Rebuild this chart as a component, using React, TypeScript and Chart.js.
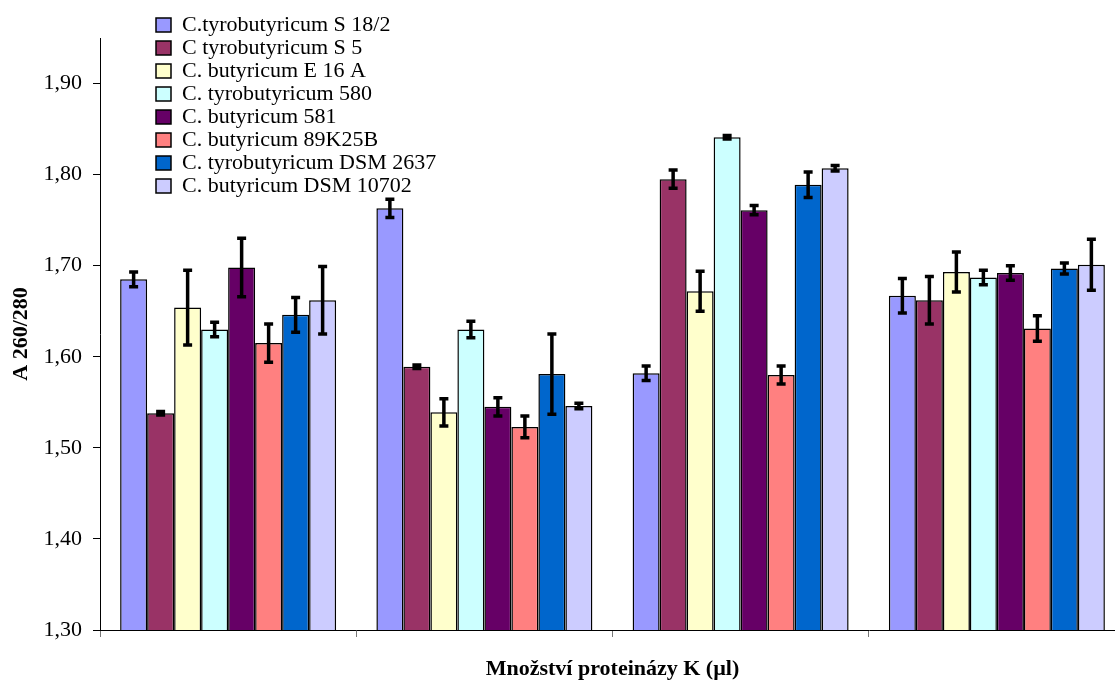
import React, { useEffect, useRef } from 'react';
import { Chart, registerables } from 'chart.js';

Chart.register(...registerables);

// ---- Data ----
const categories = ['', '', '', ''];

const seriesNames = [
  'C.tyrobutyricum S 18/2',
  'C tyrobutyricum S 5',
  'C. butyricum E 16 A',
  'C. tyrobutyricum 580',
  'C. butyricum 581',
  'C. butyricum 89K25B',
  'C. tyrobutyricum DSM 2637',
  'C. butyricum DSM 10702',
];

const s18_2 = [1.685, 1.763, 1.582, 1.667];
const s5 = [1.538, 1.589, 1.795, 1.662];
const e16a = [1.654, 1.539, 1.672, 1.693];
const t580 = [1.630, 1.630, 1.841, 1.687];
const b581 = [1.698, 1.545, 1.761, 1.692];
const b89k25b = [1.615, 1.523, 1.580, 1.631];
const dsm2637 = [1.646, 1.581, 1.789, 1.697];
const dsm10702 = [1.662, 1.546, 1.807, 1.701];

const s18_2Err = [0.008, 0.010, 0.008, 0.019];
const s5Err = [0.002, 0.002, 0.010, 0.026];
const e16aErr = [0.041, 0.015, 0.022, 0.022];
const t580Err = [0.008, 0.009, 0.002, 0.008];
const b581Err = [0.032, 0.010, 0.005, 0.008];
const b89k25bErr = [0.021, 0.012, 0.010, 0.014];
const dsm2637Err = [0.019, 0.044, 0.014, 0.006];
const dsm10702Err = [0.037, 0.003, 0.003, 0.028];

const seriesValues = [s18_2, s5, e16a, t580, b581, b89k25b, dsm2637, dsm10702];
const seriesErrors = [s18_2Err, s5Err, e16aErr, t580Err, b581Err, b89k25bErr, dsm2637Err, dsm10702Err];

const colors = ['#9999FF', '#993366', '#FFFFCC', '#CCFFFF', '#660066', '#FF8080', '#0066CC', '#CCCCFF'];

const yMin = 1.3;
const yMax = 1.95;
const yStep = 0.1;

const FONT = '"Liberation Serif", "Times New Roman", Times, serif';
const FS = 22;

const errorBarPlugin = {
  id: 'errorBars',
  afterDatasetsDraw(chart: any) {
    const ctx = chart.ctx;
    const yScale = chart.scales.y;
    ctx.save();
    ctx.strokeStyle = '#000';
    ctx.lineWidth = 3.5;
    ctx.lineCap = 'butt';
    chart.data.datasets.forEach((ds: any, i: number) => {
      const meta = chart.getDatasetMeta(i);
      meta.data.forEach((el: any, j: number) => {
        const v = ds.data[j];
        const e = ds.errors[j];
        const yt = yScale.getPixelForValue(v + e);
        const yb = yScale.getPixelForValue(v - e);
        const x = el.x;
        ctx.beginPath();
        ctx.moveTo(x, yt);
        ctx.lineTo(x, yb);
        ctx.moveTo(x - 4.5, yt);
        ctx.lineTo(x + 4.5, yt);
        ctx.moveTo(x - 4.5, yb);
        ctx.lineTo(x + 4.5, yb);
        ctx.stroke();
      });
    });
    ctx.restore();
  },
};

const legendPlacer = {
  id: 'legendPlacer',
  afterLayout(chart: any) {
    const lg = chart.legend;
    if (!lg) return;
    const w = lg.width;
    const h = lg.height;
    lg.left = 155;
    lg.top = 13;
    lg.right = 155 + w;
    lg.bottom = 13 + h;
  },
};

export default function App() {
  const ref = useRef<HTMLCanvasElement>(null);

  useEffect(() => {
    let chart: any = null;
    let cancelled = false;
    const build = () => {
      if (cancelled || !ref.current) return;
      chart = new Chart(ref.current, {
        type: 'bar',
        data: {
          labels: categories,
          datasets: seriesNames.map((name, i) => ({
            label: name,
            data: seriesValues[i],
            errors: seriesErrors[i],
            backgroundColor: colors[i],
            borderColor: '#000',
            borderWidth: 1.5,
            borderSkipped: 'bottom',
            barPercentage: 1,
            categoryPercentage: 216 / 256.25,
          })) as any,
        },
        options: {
          animation: false,
          responsive: false,
          devicePixelRatio: 1,
          font: { family: FONT },
          layout: { padding: { top: 38, right: 10, bottom: 0, left: 0 } },
          plugins: {
            legend: {
              position: 'chartArea',
              align: 'start',
              labels: {
                font: { family: FONT, size: FS, weight: 'normal' },
                color: '#000',
                boxWidth: 15,
                boxHeight: 14,
                padding: 1,
              },
            },
            tooltip: { enabled: false },
          },
          scales: {
            x: {
              type: 'category',
              offset: true,
              grid: {
                display: true,
                offset: true,
                drawOnChartArea: false,
                drawTicks: true,
                tickLength: 7,
                color: '#777',
              },
              border: { display: true, color: '#000', width: 1 },
              ticks: { display: false },
              title: {
                display: true,
                text: 'Množství proteinázy K (µl)',
                font: { family: FONT, size: FS, weight: 'bold' },
                color: '#000',
                padding: { top: 0, bottom: 3 },
              },
              afterFit: (scale: any) => {
                scale.height = 56;
              },
            },
            y: {
              type: 'linear',
              min: yMin,
              max: yMax,
              grid: {
                display: true,
                drawOnChartArea: false,
                drawTicks: true,
                tickLength: 7,
                color: '#000',
              },
              border: { display: true, color: '#000', width: 1 },
              ticks: {
                stepSize: yStep,
                padding: 11,
                color: '#000',
                font: { family: FONT, size: FS, weight: 'normal' },
                callback: (v: any) => Number(v).toFixed(2).replace('.', ','),
              },
              afterBuildTicks: (scale: any) => {
                scale.ticks = scale.ticks.filter(
                  (t: any) => Math.abs(t.value * 10 - Math.round(t.value * 10)) < 1e-6
                );
              },
              title: {
                display: true,
                text: 'A 260/280',
                font: { family: FONT, size: FS, weight: 'bold' },
                color: '#000',
                padding: { top: 8, bottom: 0 },
              },
              afterFit: (scale: any) => {
                scale.width = 100;
              },
            },
          },
        } as any,
        plugins: [errorBarPlugin, legendPlacer],
      });
    };
    const fonts: any = (document as any).fonts;
    if (fonts && fonts.load) {
      Promise.all([
        fonts.load(FS + 'px "Liberation Serif"'),
        fonts.load('bold ' + FS + 'px "Liberation Serif"'),
      ])
        .catch(() => null)
        .then(build);
    } else {
      build();
    }
    return () => {
      cancelled = true;
      if (chart) chart.destroy();
    };
  }, []);

  return (
    <div
      style={{
        position: 'absolute',
        left: 0,
        top: 0,
        width: 1115,
        height: 686,
        overflow: 'hidden',
        background: '#fff',
      }}
    >
      <canvas ref={ref} width={1135} height={686} style={{ display: 'block' }} />
    </div>
  );
}
